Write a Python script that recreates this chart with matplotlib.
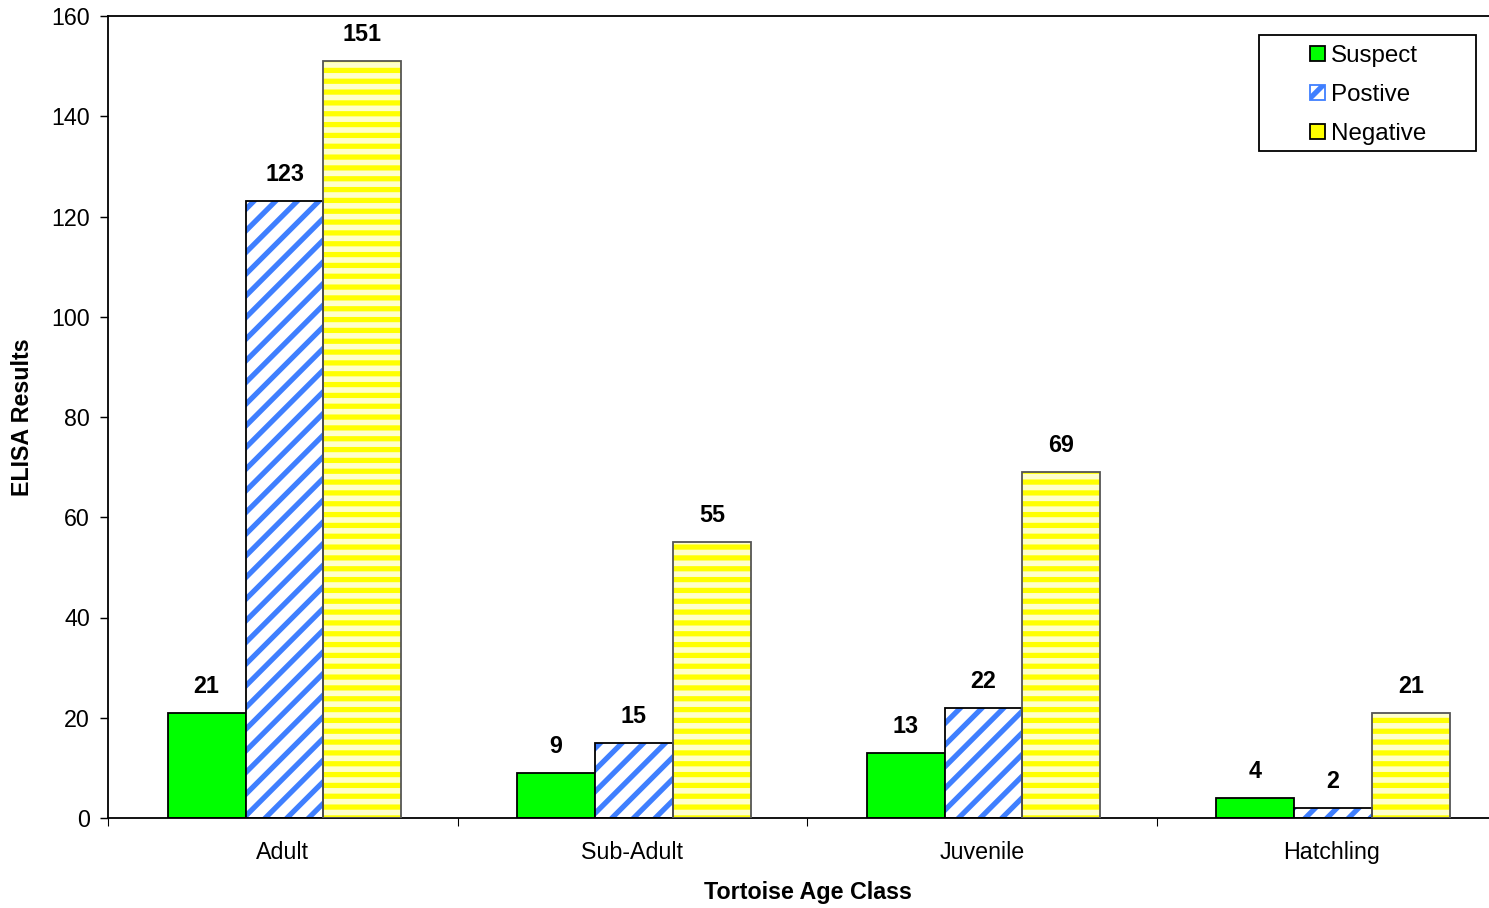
import numpy as np
import matplotlib
matplotlib.use("Agg")
import matplotlib.pyplot as plt
from matplotlib.patches import Patch, Rectangle

plt.rcParams['font.family'] = ['Liberation Sans', 'DejaVu Sans']
plt.rcParams['hatch.linewidth'] = 2.9

categories = ['Adult', 'Sub-Adult', 'Juvenile', 'Hatchling']
suspect = [21, 9, 13, 4]
positive = [123, 15, 22, 2]
negative = [151, 55, 69, 21]
series_names = ['Suspect', 'Postive', 'Negative']
y_ticks = [0, 20, 40, 60, 80, 100, 120, 140, 160]

# dpi picked so the hatch spacing matches the original stripes
DPI = 130
W, H = 1489, 908
fig = plt.figure(figsize=(W / DPI, H / DPI), dpi=DPI)
ax = fig.add_axes([108 / W, 1 - 818 / H, (1506 - 108) / W, (818 - 16) / H])

x = np.arange(len(categories)) + 0.005
w = 0.223
fs = 12.9

# suspect: plain green
ax.bar(x - w, suspect, w, color='#00ff00', edgecolor='black', linewidth=1.0, zorder=2)

# positive: blue diagonal stripes on white
ax.bar(x, positive, w, color='white', edgecolor='#3f7fff', hatch='//', linewidth=0, zorder=2)
ax.bar(x, positive, w, fill=False, edgecolor='black', linewidth=1.0, zorder=3)

# negative: yellow horizontal stripes on pale yellow
ax.bar(x + w, negative, w, color='#ffffcc', edgecolor='#ffff00', hatch='--', linewidth=0, zorder=2)
ax.bar(x + w, negative, w, fill=False, edgecolor='#555555', linewidth=1.0, zorder=3)

for offs, vals in [(-w, suspect), (0, positive), (w, negative)]:
    for xi, v in zip(x, vals):
        ax.annotate(str(v), (xi + offs, v), xytext=(0, 8.3), textcoords='offset points',
                    ha='center', va='bottom', fontsize=fs, fontweight='bold')

ax.set_xlim(-0.5, 3.5)
ax.set_ylim(0, 160)
ax.set_yticks(y_ticks)
ax.tick_params(axis='y', labelsize=fs, length=4.5, direction='out', pad=5.5)
ax.set_xticks(np.arange(len(categories)))
ax.set_xticklabels(categories)
ax.tick_params(axis='x', which='major', length=0, labelsize=fs, pad=13)
ax.set_xticks(np.arange(len(categories) + 1) - 0.5, minor=True)
ax.tick_params(axis='x', which='minor', length=4.5, direction='out')

for s in ['top', 'left', 'bottom']:
    ax.spines[s].set_linewidth(1.0)
ax.spines['right'].set_visible(False)

fig.text(23 / W, 1 - 417 / H, 'ELISA Results', rotation=90, ha='center', va='center',
         fontsize=fs, fontweight='bold')
fig.text(808 / W, 1 - 893 / H, 'Tortoise Age Class', ha='center', va='center',
         fontsize=fs, fontweight='bold')

# legend: frame drawn separately so the entries can sit with a wide left margin
fig.patches.append(Rectangle((1259 / W, 1 - 151 / H), (1476 - 1259) / W, (151 - 35) / H,
                             transform=fig.transFigure, fill=False, edgecolor='black',
                             linewidth=1.0))
handles = [Patch(facecolor='#00ff00', edgecolor='black'),
           Patch(facecolor='white', edgecolor='#3f7fff', hatch='//'),
           Patch(facecolor='#ffff00', edgecolor='black')]
leg = ax.legend(handles, series_names, loc='upper left', bbox_to_anchor=(1298 / W, 1 - 33 / H),
                bbox_transform=fig.transFigure, fontsize=13.4, frameon=False,
                handlelength=0.6, handleheight=0.6, handletextpad=0.28,
                labelspacing=0.7, borderpad=0.5, borderaxespad=0)

fig.savefig('out.png', dpi=DPI)
